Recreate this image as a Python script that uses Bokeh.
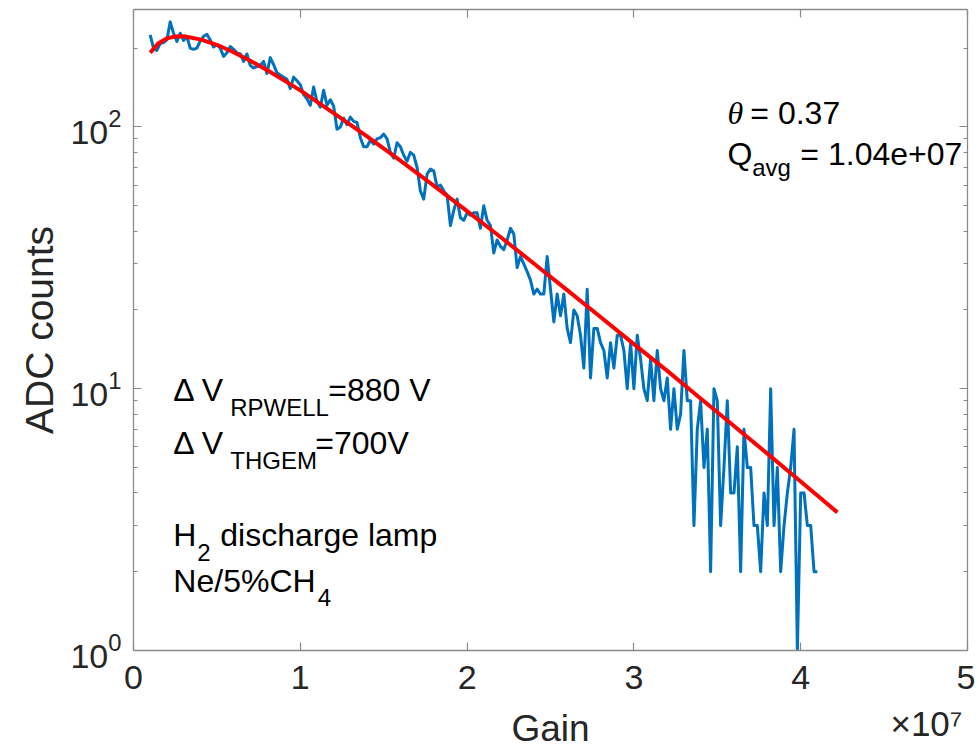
import numpy as np
from bokeh.plotting import figure
from bokeh.models import (Range1d, FixedTicker, LogAxis, LinearAxis, LogTickFormatter,
                          CustomJSTickFormatter, Label)
from bokeh.embed import file_html
from bokeh.resources import INLINE

# ---------------- data ----------------
GAIN_START = 1.0e6          # first bin centre
GAIN_STEP = 2.0e5           # bin width
ADC_COUNTS = [
    225, 200, 196, 208, 210, 215, 252, 228, 212, 228,
    214, 222, 200, 198, 200, 213, 222, 226, 215, 202,
    206, 200, 186, 192, 203, 198, 192, 190, 178, 190,
    172, 168, 170, 172, 178, 160, 184, 173, 161, 158,
    155, 152, 140, 155, 150, 145, 133, 128, 121, 142,
    125, 119, 138, 121, 127, 120, 98, 100, 108, 102,
    109, 105, 104, 91, 84, 84, 89, 86, 90, 91,
    94, 90, 80, 76, 87, 84, 78, 74, 80, 78,
    70, 57, 53, 66, 69, 68, 59, 60, 57, 55,
    42, 48, 53, 45, 44, 47, 46, 47, 47, 41,
    50, 44, 42, 33, 37, 35, 34, 37, 41, 39,
    29, 32, 30, 28, 26, 23, 24, 23, 23, 32,
    24, 18, 23, 19, 23, 17, 15, 20, 19, 16,
    12, 24, 11, 17, 17, 15, 14, 11, 15, 12,
    16, 16, 14, 10, 15, 10, 16, 13, 10, 9,
    13, 9, 14, 10, 9, 11, 7, 10, 7, 8,
    14, 9, 9, 3, 7, 9, 5, 7, 2, 10,
    9, 3, 5, 9, 4, 4, 6, 2, 7, 5,
    5, 3, 3, 2, 4, 3, 10, 3, 5, 2,
    3, 4, 5, 7, 1, 4, 4, 3, 3, 2,
    2,
]

# Polya fit curve (theta = 0.37, Q_avg = 1.04e7), sampled values
FIT_GAIN = [1.0e6, 1.5e6, 2.0e6, 2.5e6, 3.0e6, 4.0e6, 5.0e6, 6.0e6, 7.0e6, 8.0e6,
            9.0e6, 10e6, 12e6, 14e6, 16e6, 18e6, 20e6, 22e6, 24e6, 26e6,
            28e6, 30e6, 32e6, 34e6, 36e6, 38e6, 40e6, 42.2e6]
FIT_COUNTS = [192, 209, 218, 221.5, 222, 216, 206, 193, 179, 165,
              151, 138, 113, 92.1, 74.3, 59.7, 47.7, 38.0, 30.1, 23.8,
              18.8, 14.8, 11.7, 9.17, 7.20, 5.65, 4.42, 3.37]

X_TICKS = [0, 1e7, 2e7, 3e7, 4e7, 5e7]
Y_TICKS = [1, 10, 100]
Y_MINOR = [2, 3, 4, 5, 6, 7, 8, 9, 20, 30, 40, 50, 60, 70, 80, 90, 200]
X_RANGE = (0, 5e7)
Y_RANGE = (1, 281)
X_EXPONENT_TEXT = "\u00d710\u2077"   # axis multiplier shown under the x axis
X_EXPONENT_AT = 4.754e7              # where that multiplier is centred

gain = GAIN_START + GAIN_STEP * np.arange(len(ADC_COUNTS))

# ---------------- styling ----------------
SANS = "Liberation Sans"
SERIF = "Liberation Serif"
AXIS_GREY = "#8a8a8a"
TXT = "#262626"
BLUE = "#0072BD"
RED = "#FF0000"

p = figure(width=975, height=752,
           x_range=Range1d(*X_RANGE), y_range=Range1d(*Y_RANGE),
           y_axis_type="log", output_backend="svg", toolbar_location=None,
           min_border_left=133, min_border_right=8, min_border_top=9,
           min_border_bottom=102,
           background_fill_color="white", border_fill_color="white")
p.outline_line_color = None
p.grid.visible = False

p.line(gain, ADC_COUNTS, line_color=BLUE, line_width=3.0, line_join="round")
p.line(FIT_GAIN, FIT_COUNTS, line_color=RED, line_width=4.0, line_join="round")


def style_axis(ax, show_labels=True):
    ax.axis_line_color = AXIS_GREY
    ax.axis_line_width = 1.3
    ax.major_tick_line_color = AXIS_GREY
    ax.minor_tick_line_color = AXIS_GREY
    ax.major_tick_line_width = 1.2
    ax.minor_tick_line_width = 1.2
    ax.major_tick_in = 8
    ax.major_tick_out = 0
    ax.minor_tick_in = 4
    ax.minor_tick_out = 0
    ax.major_label_text_font = SANS
    ax.major_label_text_color = TXT
    ax.axis_label_text_font = SANS
    ax.axis_label_text_font_style = "normal"
    ax.axis_label_text_color = TXT
    if show_labels:
        ax.major_label_text_font_size = "34px"
        ax.axis_label_text_font_size = "37px"
    else:
        ax.major_label_text_font_size = "0px"
        ax.major_label_standoff = 0
        ax.formatter = CustomJSTickFormatter(code="return ''")


# bottom axis: ticks and tick numbers
xa = p.xaxis[0]
xa.ticker = FixedTicker(ticks=X_TICKS, minor_ticks=[])
xa.formatter = CustomJSTickFormatter(code="return (tick / 1e7).toFixed(0);")
style_axis(xa)
xa.major_label_standoff = 15

# second row under the x axis: the "x10^7" multiplier and the "Gain" title
xb = LinearAxis(ticker=FixedTicker(ticks=[X_EXPONENT_AT], minor_ticks=[]),
                major_label_overrides={X_EXPONENT_AT: X_EXPONENT_TEXT})
style_axis(xb)
xb.axis_line_color = None
xb.major_tick_line_color = None
xb.major_tick_in = 0
xb.major_label_text_font_size = "35px"
xb.major_label_standoff = 12
xb.axis_label = "Gain"
xb.axis_label_text_font_size = "37px"
xb.axis_label_standoff = -38
p.add_layout(xb, "below")

ya = p.yaxis[0]
ya.ticker = FixedTicker(ticks=Y_TICKS, minor_ticks=Y_MINOR)
ya.formatter = LogTickFormatter()
style_axis(ya)
ya.axis_label = "ADC counts"
ya.axis_label_text_font_size = "39px"
ya.major_label_standoff = 12
ya.axis_label_standoff = 6

top = LinearAxis(ticker=FixedTicker(ticks=X_TICKS, minor_ticks=[]))
style_axis(top, show_labels=False)
p.add_layout(top, "above")

right = LogAxis(ticker=FixedTicker(ticks=Y_TICKS, minor_ticks=Y_MINOR))
style_axis(right, show_labels=False)
p.add_layout(right, "right")

# ---------------- text annotations (data coordinates) ----------------
ANNOT = [
    # text, x, y, size, font, style
    ("\u03b8", 3.561e7, 112.9, 32, SERIF, "italic"),
    ("= 0.37", 3.698e7, 112.9, 32, SANS, "normal"),
    ("Q", 3.561e7, 79.1, 32, SANS, "normal"),
    ("avg", 3.709e7, 70.2, 24, SANS, "normal"),
    ("= 1.04e+07", 3.998e7, 79.1, 32, SANS, "normal"),
    ("\u0394 V", 2.39e6, 9.85, 32, SANS, "normal"),
    ("RPWELL", 5.80e6, 8.48, 24, SANS, "normal"),
    ("=880 V", 1.168e7, 9.85, 32, SANS, "normal"),
    ("\u0394 V", 2.39e6, 6.19, 32, SANS, "normal"),
    ("THGEM", 5.80e6, 5.32, 24, SANS, "normal"),
    ("=700V", 1.090e7, 6.19, 32, SANS, "normal"),
    ("H", 2.39e6, 2.75, 32, SANS, "normal"),
    ("2", 3.82e6, 2.37, 24, SANS, "normal"),
    ("discharge lamp", 5.20e6, 2.75, 32, SANS, "normal"),
    ("Ne/5%CH", 2.39e6, 1.849, 32, SANS, "normal"),
    ("4", 1.105e7, 1.59, 24, SANS, "normal"),
]
for txt, x, y, size, font, fstyle in ANNOT:
    p.add_layout(Label(x=x, y=y, x_units="data", y_units="data", text=txt,
                       text_font=font, text_font_size=f"{size}px",
                       text_font_style=fstyle, text_color="black",
                       text_align="left", text_baseline="alphabetic"))

open("out.html", "w").write(file_html(p, INLINE))
